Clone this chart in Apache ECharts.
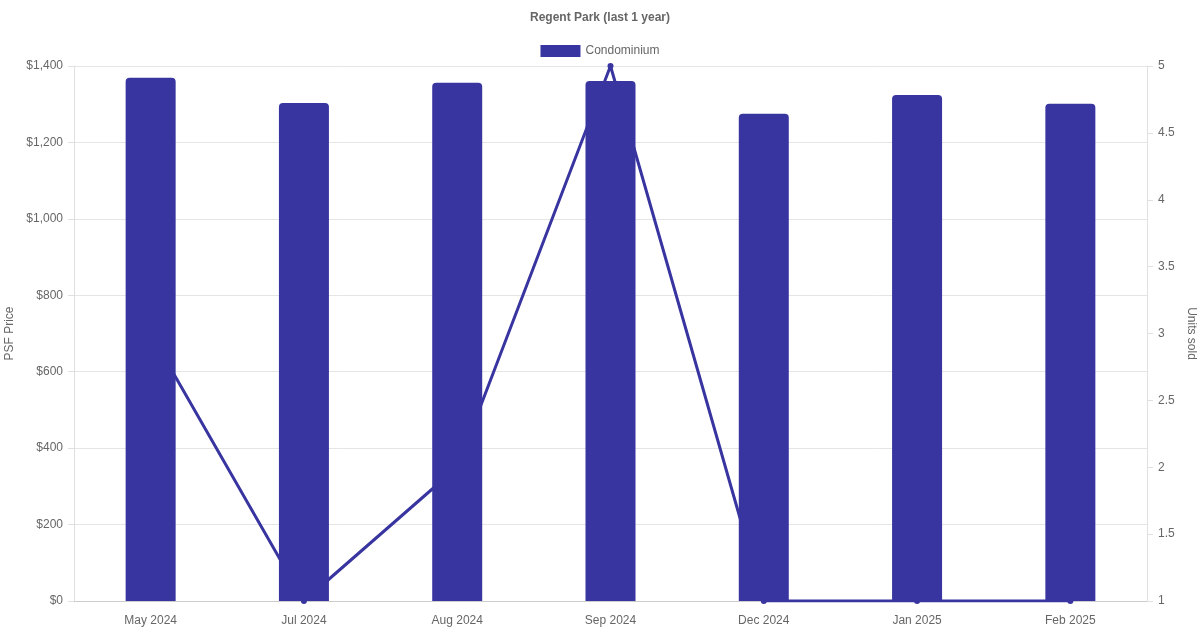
<!DOCTYPE html>
<html>
<head>
<meta charset="utf-8">
<script src="https://cdn.jsdelivr.net/npm/echarts@6/dist/echarts.min.js"></script>
<style>
html,body{margin:0;padding:0;background:#fff;}
#chart{width:1200px;height:630px;}
</style>
</head>
<body>
<div id="chart"></div>
<script>
const categories = ['May 2024','Jul 2024','Aug 2024','Sep 2024','Dec 2024','Jan 2025','Feb 2025'];
const psfPrice = [1369, 1303, 1356, 1361, 1275, 1324, 1301];
const unitsSold = [3, 1, 2, 5, 1, 1, 1];
const psfTicks = [0, 200, 400, 600, 800, 1000, 1200, 1400];
const unitTicks = [1, 1.5, 2, 2.5, 3, 3.5, 4, 4.5, 5];

const color = '#3935a0';
const textColor = '#666';
const font = 'Liberation Sans, Arial, Helvetica, sans-serif';

const chart = echarts.init(document.getElementById('chart'));
chart.setOption({
  animation: false,
  textStyle: {fontFamily: font},
  title: {
    text: 'Regent Park (last 1 year)',
    left: 'center', top: 7,
    textStyle: {fontSize: 12, fontWeight: 'bold', color: textColor, fontFamily: font}
  },
  legend: {
    data: ['Condominium'],
    top: 40, left: 'center',
    itemWidth: 40, itemHeight: 12, itemGap: 10,
    textStyle: {fontSize: 12, color: textColor, fontFamily: font},
    icon: 'rect'
  },
  grid: {left: 74, right: 53, top: 66, bottom: 29, containLabel: false, outerBoundsMode: 'none'},
  xAxis: {
    type: 'category',
    data: categories,
    axisLine: {lineStyle: {color: '#ccc'}},
    axisTick: {show: false},
    axisLabel: {color: textColor, fontSize: 12, margin: 14, fontFamily: font},
    splitLine: {show: false}
  },
  yAxis: [
    {
      type: 'value', min: psfTicks[0], max: psfTicks[psfTicks.length-1], interval: 200,
      name: 'PSF Price', nameLocation: 'middle', nameGap: 54, nameRotate: 90,
      nameTextStyle: {color: textColor, fontSize: 12, fontFamily: font},
      axisLine: {show: true, lineStyle: {color: '#e0e0e0'}},
      axisTick: {show: true, length: 6, lineStyle: {color: '#e0e0e0'}},
      axisLabel: {color: textColor, fontSize: 12, margin: 11, fontFamily: font,
        formatter: v => '$' + v.toLocaleString('en-US')},
      splitLine: {lineStyle: {color: '#e5e5e5'}}
    },
    {
      type: 'value', min: unitTicks[0], max: unitTicks[unitTicks.length-1], interval: 0.5,
      position: 'right',
      name: 'Units sold', nameLocation: 'middle', nameGap: 33, nameRotate: -90,
      nameTextStyle: {color: textColor, fontSize: 12, fontFamily: font},
      axisLine: {show: true, lineStyle: {color: '#e0e0e0'}},
      axisTick: {show: true, length: 6, lineStyle: {color: '#e0e0e0'}},
      axisLabel: {color: textColor, fontSize: 12, margin: 11, fontFamily: font},
      splitLine: {show: false}
    }
  ],
  series: [
    {
      name: 'Units',
      type: 'line',
      yAxisIndex: 1,
      data: unitsSold,
      z: 1,
      symbol: 'circle', symbolSize: 6,
      lineStyle: {color: color, width: 3},
      itemStyle: {color: color}
    },
    {
      name: 'Condominium',
      type: 'bar',
      yAxisIndex: 0,
      data: psfPrice,
      z: 3,
      barWidth: 50,
      itemStyle: {color: color, borderRadius: [4,4,0,0]}
    }
  ]
});
</script>
</body>
</html>
